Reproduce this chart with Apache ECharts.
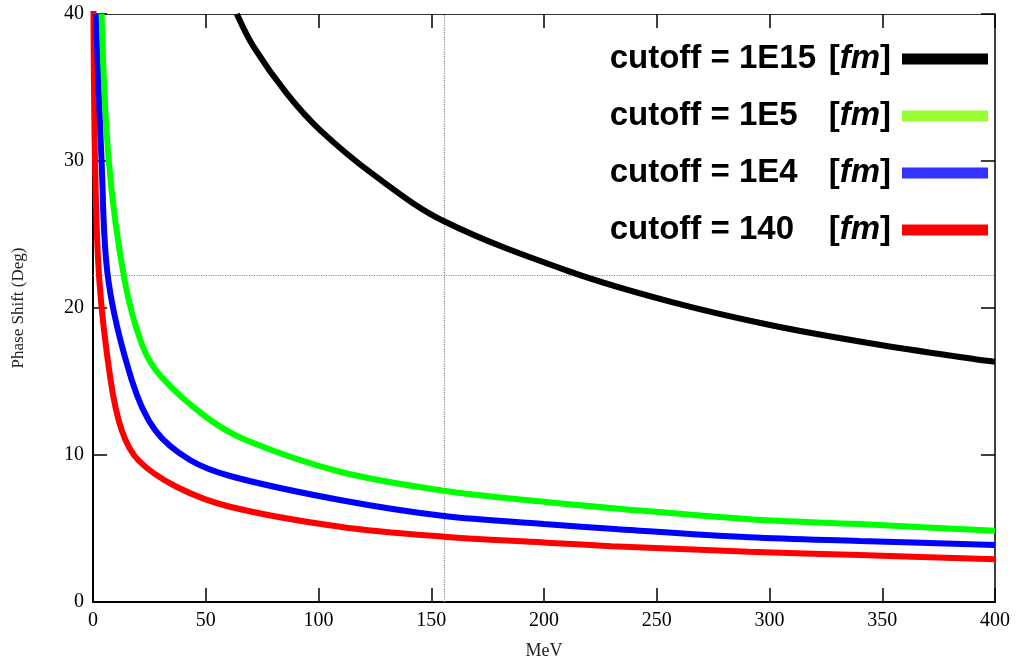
<!DOCTYPE html>
<html>
<head>
<meta charset="utf-8">
<title>Phase Shift vs MeV</title>
<script src="https://cdn.jsdelivr.net/npm/echarts@6/dist/echarts.min.js"></script>
<style>
  html, body { margin: 0; padding: 0; background: #ffffff; }
  #chart { width: 1016px; height: 665px; }
</style>
</head>
<body>
<div id="chart"></div>
<script>
// 读图得到的数据 (MeV, Deg)
const cutoffNames = ['1E15', '1E5', '1E4', '140'];

const blackX = [63.8, 71.1, 85.9, 100.7, 125, 155.7, 211.5, 255.9, 300.2, 344.6, 391.9, 400];
const blackY = [40, 37.8, 34.6, 32.1, 29.0, 25.9, 22.47, 20.43, 18.84, 17.6, 16.5, 16.35];

const greenX = [3.8, 7, 14, 22, 30.4, 50, 68, 109.5, 155.7, 200, 233, 291, 340, 400];
const greenY = [40, 30, 21.9, 17.4, 15.3, 12.6, 11.0, 8.86, 7.57, 6.82, 6.35, 5.63, 5.3, 4.85];

const blueX = [1.3, 3.8, 6.8, 17.2, 27.5, 43, 62, 109.5, 155.7, 200, 233, 291, 340, 400];
const blueY = [40, 30, 21.9, 15.1, 11.7, 9.66, 8.52, 6.94, 5.85, 5.31, 4.95, 4.4, 4.15, 3.88];

const redX = [0.2, 0.9, 2.8, 7.8, 12.7, 20, 37, 60.7, 109.5, 155.7, 200, 230, 291, 340, 400];
const redY = [40.5, 30, 21.9, 15.1, 11.7, 9.66, 7.84, 6.48, 5.12, 4.44, 4.05, 3.8, 3.42, 3.2, 2.9];

// 虚线十字
const crossX = 155.7;
const crossY = 22.2;

const xTicks = { min: 0, max: 400, interval: 50 };
const yTicks = { min: 0, max: 40, interval: 10 };

const lineColors = ['#000000', '#00ff00', '#0000ff', '#ff0000'];
const swatchColors = ['#000000', '#99ff33', '#3333ff', '#ff0000'];

function zip(xs, ys) {
  return xs.map((x, i) => [x, ys[i]]);
}

const seriesData = [zip(blackX, blackY), zip(greenX, greenY), zip(blueX, blueY), zip(redX, redY)];

const chart = echarts.init(document.getElementById('chart'), null, { renderer: 'canvas' });

const serif = 'Liberation Serif';
const sans = 'Liberation Sans';
const tickStyle = { inside: true, length: 14, lineStyle: { color: '#000', width: 1.5 } };
const legendFont = { fontFamily: sans, fontWeight: 'bold', fontSize: 33, lineHeight: 36 };

chart.setOption({
  animation: false,
  backgroundColor: '#ffffff',
  grid: { left: 93, right: 21, top: 14, bottom: 63 },
  legend: {
    orient: 'vertical',
    right: 23,
    top: 36,
    align: 'right',
    icon: 'rect',
    itemWidth: 86,
    itemHeight: 11,
    itemGap: 21,
    selectedMode: false,
    data: cutoffNames.map((n, i) => ({ name: n, itemStyle: { color: swatchColors[i] } })),
    formatter: name => `{n|cutoff = ${name}}{b|[}{i|fm}{e|]}`,
    textStyle: {
      ...legendFont,
      color: '#000',
      rich: {
        n: { ...legendFont, width: 219, align: 'left' },
        b: { ...legendFont },
        i: { ...legendFont, fontStyle: 'italic' },
        e: { ...legendFont, padding: [0, 6, 0, 0] }
      }
    }
  },
  xAxis: [
    {
      type: 'value',
      position: 'bottom',
      ...xTicks,
      name: 'MeV',
      nameLocation: 'middle',
      nameGap: 40,
      nameTextStyle: { fontFamily: serif, fontSize: 18, color: '#222' },
      axisLine: { onZero: false, lineStyle: { color: '#000', width: 2 } },
      axisTick: tickStyle,
      axisLabel: { fontFamily: serif, fontSize: 20, color: '#000', margin: 9 },
      splitLine: { show: false }
    },
    {
      type: 'value',
      position: 'top',
      ...xTicks,
      axisLine: { onZero: false, lineStyle: { color: '#333', width: 1 } },
      axisTick: tickStyle,
      axisLabel: { show: false },
      splitLine: { show: false }
    }
  ],
  yAxis: [
    {
      type: 'value',
      position: 'left',
      ...yTicks,
      name: 'Phase Shift (Deg)',
      nameLocation: 'middle',
      nameGap: 66,
      nameTextStyle: { fontFamily: serif, fontSize: 17, color: '#222' },
      axisLine: { show: true, onZero: false, lineStyle: { color: '#000', width: 2 } },
      axisTick: tickStyle,
      axisLabel: { fontFamily: serif, fontSize: 20, color: '#000', margin: 9 },
      splitLine: { show: false }
    },
    {
      type: 'value',
      position: 'right',
      ...yTicks,
      axisLine: { show: true, onZero: false, lineStyle: { color: '#000', width: 1.5 } },
      axisTick: tickStyle,
      axisLabel: { show: false },
      splitLine: { show: false }
    }
  ],
  series: cutoffNames.map((name, i) => ({
    name: name,
    type: 'line',
    xAxisIndex: 0,
    yAxisIndex: 0,
    data: seriesData[i],
    symbol: 'none',
    smooth: 0.35,
    clip: true,
    lineStyle: { color: lineColors[i], width: 6 },
    itemStyle: { color: lineColors[i] },
    z: 10 - i,
    markLine: i === 0 ? {
      silent: true,
      symbol: 'none',
      label: { show: false },
      lineStyle: { color: '#888', type: 'dotted', width: 1.2 },
      data: [{ xAxis: crossX }, { yAxis: crossY }]
    } : undefined
  }))
});
</script>
</body>
</html>
